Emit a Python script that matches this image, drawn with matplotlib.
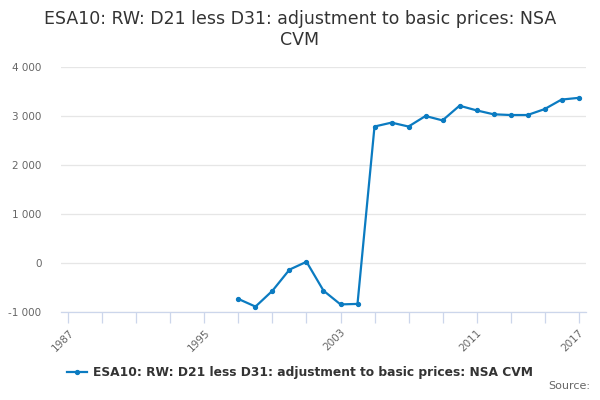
import matplotlib
matplotlib.use('Agg')
import matplotlib.pyplot as plt
from matplotlib.ticker import FuncFormatter

TITLE = "ESA10: RW: D21 less D31: adjustment to basic prices: NSA\nCVM"
SERIES = "ESA10: RW: D21 less D31: adjustment to basic prices: NSA CVM"
years = [1997, 1998, 1999, 2000, 2001, 2002, 2003, 2004, 2005, 2006, 2007,
         2008, 2009, 2010, 2011, 2012, 2013, 2014, 2015, 2016, 2017]
values = [-735, -890, -565, -135, 25, -565, -845, -835, 2785, 2865, 2785,
          3000, 2910, 3210, 3115, 3035, 3020, 3020, 3140, 3335, 3370]
ytick_vals = [-1000, 0, 1000, 2000, 3000, 4000]
xtick_labels = [1987, 1995, 2003, 2011, 2017]

C_LINE = '#0b7bc1'
C_TEXT = '#333333'
C_TICK = '#666666'
C_GRID = '#e6e6e6'
C_AXIS = '#ccd6eb'

plt.rcParams['font.family'] = ['DejaVu Sans']

fig = plt.figure(figsize=(6, 4), dpi=100)
ax = fig.add_axes([61 / 600, 88 / 400, 525 / 600, 245 / 400])

ax.plot(years, values, '-o', color=C_LINE, lw=1.6, ms=2.8, zorder=3)

ax.set_xlim(1986.56, 2017.44)
ax.set_ylim(-1000, 4000)

ax.set_yticks(ytick_vals)
ax.yaxis.set_major_formatter(FuncFormatter(lambda v, p: f"{int(v):,}".replace(",", " ")))
ax.grid(axis='y', color=C_GRID, lw=0.9, zorder=0)
ax.tick_params(axis='y', length=0, labelsize=7.5, labelcolor=C_TICK, pad=14)

# major ticks every 2 years, labels every 8 years plus the final year
major = list(range(1987, 2018, 2))
ax.set_xticks(major, labels=[str(y) if y in xtick_labels else '' for y in major])
ax.tick_params(axis='x', which='both', length=8, color=C_AXIS, width=0.9,
               labelsize=7.5, labelcolor=C_TICK, pad=3)
for lbl in ax.get_xticklabels():
    lbl.set_rotation(45)
    lbl.set_ha('right')
    lbl.set_rotation_mode('anchor')

for side in ('top', 'right', 'left'):
    ax.spines[side].set_visible(False)
ax.spines['bottom'].set_color(C_AXIS)
ax.spines['bottom'].set_linewidth(0.9)

fig.text(0.5, 0.975, TITLE, ha='center', va='top', fontsize=12.5,
         color=C_TEXT, linespacing=1.2)

ax.plot([], [], '-o', color=C_LINE, lw=1.6, ms=2.8, label=SERIES)
leg = fig.legend(loc='center', bbox_to_anchor=(0.5, 0.068), frameon=False,
                 prop={'size': 8.8, 'weight': 'bold'}, handlelength=1.6,
                 handletextpad=0.5)
for t in leg.get_texts():
    t.set_color(C_TEXT)

fig.text(0.983, 0.022, "Source:", ha='right', va='bottom', fontsize=8, color=C_TICK)

fig.savefig('out.png', dpi=100, facecolor='white')
